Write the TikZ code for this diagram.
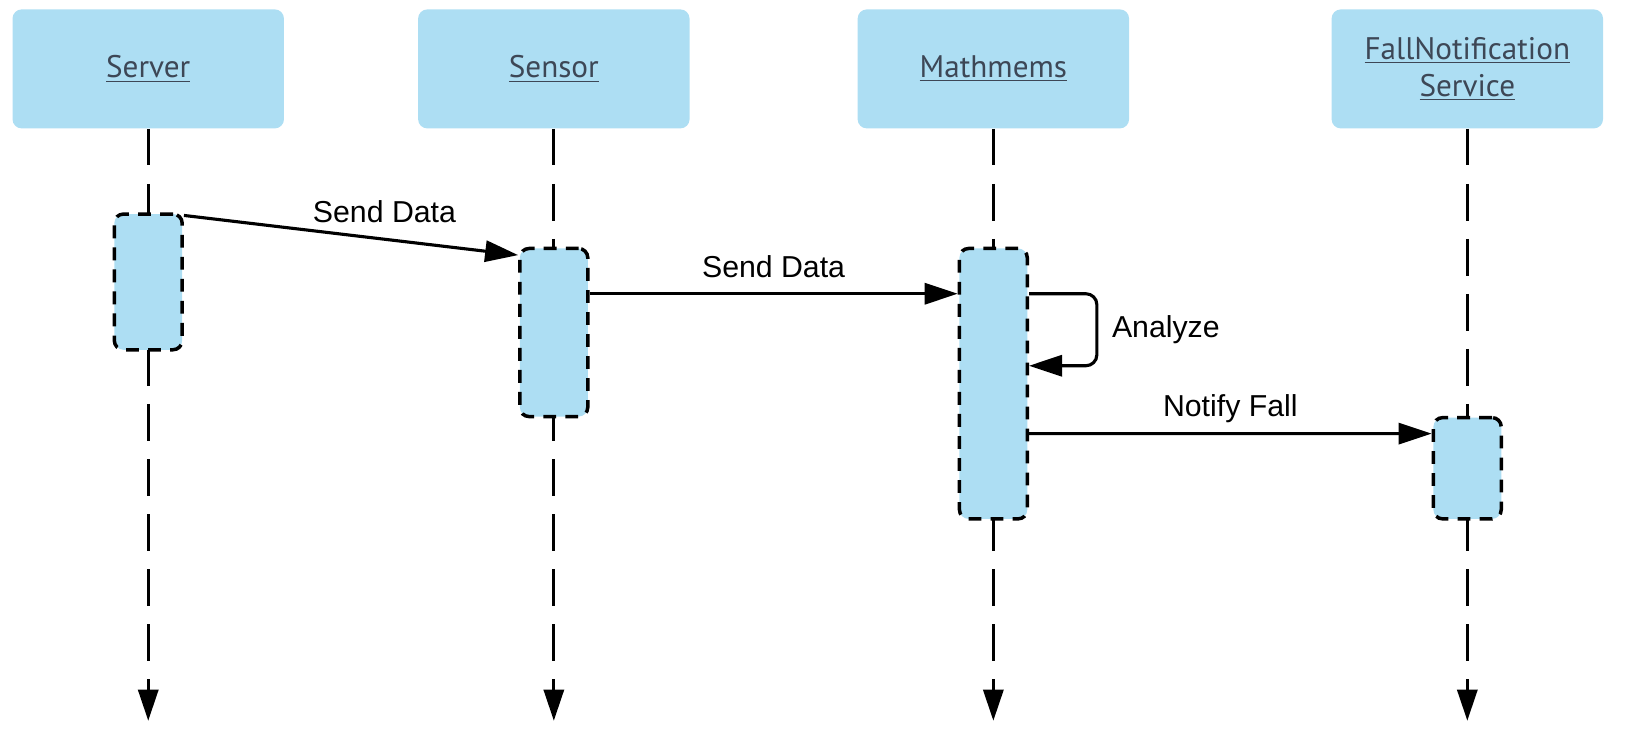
\documentclass[tikz,border=0pt]{standalone}
\usepackage{fontspec}
\setmainfont{Liberation Sans}
\newfontfamily\headfont{PT Sans}
\usepackage{xcolor}
\usepackage{tikz}
\usetikzlibrary{positioning, arrows.meta}
\definecolor{boxblue}{HTML}{ADDEF3}
\definecolor{headtext}{HTML}{3D4756}
\tikzstyle{header} = [rectangle, rounded corners=5pt,
minimum width=5.2cm,
minimum height=2.28cm,
align=center,
fill=boxblue,
text=headtext,
font=\headfont\fontsize{17}{20}\selectfont]
\tikzstyle{activation} = [rectangle, rounded corners=5pt,
minimum width=1.3cm,
inner sep=0pt,
fill=boxblue,
draw=black,
line width=1.9pt,
dash pattern=on 7pt off 5pt]
\tikzstyle{lifeline} = [line width=1.6pt,
dash pattern=on 20pt off 10pt,
-{Triangle[length=17pt,width=11pt]}]
\tikzstyle{msg} = [line width=1.7pt,-{Triangle[length=18pt,width=11.5pt]}]
\tikzstyle{msglabel} = [inner sep=0pt, anchor=base, yshift=0.32cm,
font=\fontsize{16.5}{20}\selectfont]

\begin{document}
\begin{tikzpicture}
\useasboundingbox (0,0) rectangle (31.38,-14.26);

% objects along the top
\node (server) [header] at (2.84,-1.32) {\underline{Server}};
\node (sensor) [header] at (10.61,-1.32) {\underline{Sensor}};
\node (mathmems) [header] at (19.03,-1.32) {\underline{Mathmems}};
\node (fallservice) [header] at (28.11,-1.32) {\underline{FallNotification}\\\underline{Service}};

% lifelines
\coordinate (serverEnd) at ([yshift=-11.34cm]server.south);
\coordinate (sensorEnd) at ([yshift=-11.34cm]sensor.south);
\coordinate (mathmemsEnd) at ([yshift=-11.34cm]mathmems.south);
\coordinate (fallserviceEnd) at ([yshift=-11.34cm]fallservice.south);
\draw [lifeline] (server.south) -- (serverEnd);
\draw [lifeline] (sensor.south) -- (sensorEnd);
\draw [lifeline] (mathmems.south) -- (mathmemsEnd);
\draw [lifeline] (fallservice.south) -- (fallserviceEnd);

% activation bars
\node (serverAct) [activation, minimum height=2.6cm, below=1.6cm of server] {};
\node (sensorAct) [activation, minimum height=3.22cm, below=2.26cm of sensor] {};
\node (mathmemsAct) [activation, minimum height=5.18cm, below=2.26cm of mathmems] {};
\node (fallserviceAct) [activation, minimum height=1.94cm, below=5.5cm of fallservice] {};

% messages
\draw [msg] ([yshift=-0.06cm]serverAct.north east) -- node[msglabel, pos=0.6] {Send Data} ([yshift=-0.16cm]sensorAct.north west);
\draw [msg] ([yshift=-0.9cm]sensorAct.north east) -- node[msglabel] {Send Data} ([yshift=-0.9cm]mathmemsAct.north west);
\draw [msg, rounded corners=6pt] ([yshift=-0.9cm]mathmemsAct.north east) -- ++(1.3,0)
  -- node (analyze) [anchor=west, inner sep=0pt, xshift=0.26cm, font=\fontsize{16.5}{20}\selectfont] {Analyze} ++(0,-1.38)
  -- ([yshift=-2.28cm]mathmemsAct.north east);
\draw [msg] ([yshift=-3.58cm]mathmemsAct.north east) -- node[msglabel] {Notify Fall} ([yshift=-0.34cm]fallserviceAct.north west);

\end{tikzpicture}
\end{document}
